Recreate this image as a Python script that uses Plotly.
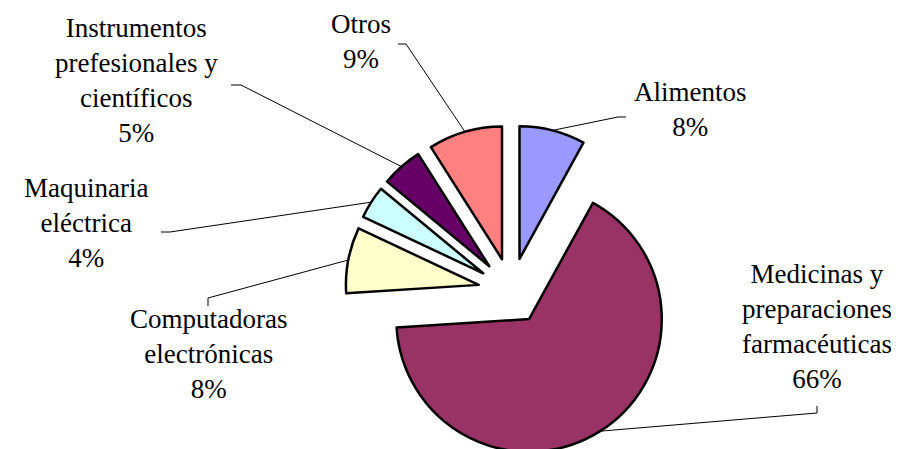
import numpy as np
import plotly.graph_objects as go

# ---- data ----
categories = ["Alimentos", "Medicinas y<br>preparaciones<br>farmacéuticas",
              "Computadoras<br>electrónicas", "Maquinaria<br>eléctrica",
              "Instrumentos<br>prefesionales y<br>científicos", "Otros"]
values = [8, 66, 8, 4, 5, 9]
colors = ["#9999FF", "#993366", "#FFFFCC", "#CCFFFF", "#660066", "#FF8080"]

# ---- layout constants (pixels) ----
W, H = 899, 449
PULL = 0.25
dom_x = [0.3732, 0.7464]
dom_y = [0.0, 0.739]
cx = W * (dom_x[0] + dom_x[1]) / 2
cy = H * (1 - (dom_y[0] + dom_y[1]) / 2)
r = min(W * (dom_x[1] - dom_x[0]), H * (dom_y[1] - dom_y[0])) / 2 / (1 + PULL)

# label centres and leader-line elbows (pixels)
label_pos = [(682, 102), (809, 318), (200, 346), (78, 215), (128, 72), (353, 34)]
elbows = [[(610, 109), (618, 109)], [(809, 405), (809, 398)],
          [(200, 290), (200, 298)], [(162, 224), (153, 224)],
          [(233, 77), (223, 77)], [(398, 36), (390, 36)]]

fig = go.Figure(go.Pie(
    labels=categories, values=values, sort=False, direction="clockwise",
    rotation=0, pull=[PULL] * len(values), textinfo="none", hoverinfo="label+percent",
    marker=dict(colors=colors, line=dict(color="black", width=2.5)),
    domain=dict(x=dom_x, y=dom_y), showlegend=False,
))

def px2paper(x, y):
    return x / W, 1 - y / H

total = sum(values)
cum = np.cumsum([0] + values)
annotations, shapes = [], []
for i, (cat, v) in enumerate(zip(categories, values)):
    pct = round(100 * v / total)
    lx, ly = label_pos[i]
    px, py = px2paper(lx, ly)
    annotations.append(dict(x=px, y=py, xref="paper", yref="paper",
                            text=f"{cat}<br>{pct}%", showarrow=False,
                            xanchor="center", yanchor="middle", align="center",
                            borderpad=0,
                            font=dict(family="Liberation Serif, Times New Roman, serif",
                                      size=27, color="black")))
    theta = 2 * np.pi * (cum[i] + v / 2) / total
    ax = cx + r * (1 + PULL) * np.sin(theta)
    ay = cy - r * (1 + PULL) * np.cos(theta)
    pts = [(ax, ay)] + elbows[i]
    path = ""
    for j, (x, y) in enumerate(pts):
        qx, qy = px2paper(x, y)
        path += ("M" if j == 0 else " L") + f" {qx:.5f} {qy:.5f}"
    shapes.append(dict(type="path", path=path, xref="paper", yref="paper",
                       line=dict(color="black", width=1)))

fig.update_layout(width=W, height=H, margin=dict(l=0, r=0, t=0, b=0),
                  paper_bgcolor="white", plot_bgcolor="white",
                  annotations=annotations, shapes=shapes)
fig.write_html("out.html")
